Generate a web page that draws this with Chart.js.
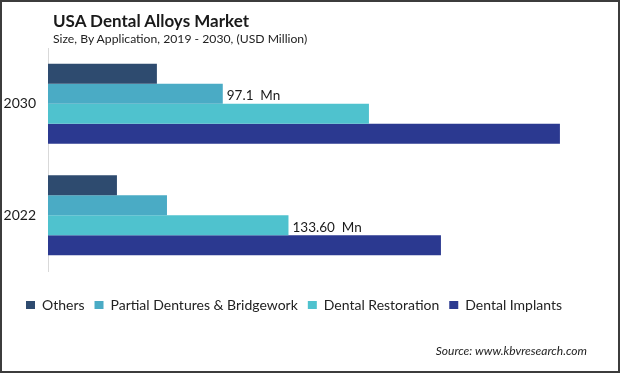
<!DOCTYPE html>
<html>
<head>
<meta charset="utf-8">
<script src="https://cdn.jsdelivr.net/npm/chart.js@4"></script>
<style>
  html, body { margin: 0; padding: 0; background: #fff; }
  #wrap { position: relative; width: 620px; height: 373px; overflow: hidden; }
  #myChart { position: absolute; left: 0; top: 0; }
  .txt { position: absolute; white-space: nowrap; font-family: Lato, sans-serif; color: #1a1a1a; line-height: 1; }
  #title { left: 53px; top: 12px; font-size: 17px; font-weight: bold; }
  #subtitle { left: 53px; top: 33px; font-size: 12.2px; color: #222; }
  #source { right: 33px; top: 345px; font-size: 12px; font-style: italic; color: #222; }
</style>
</head>
<body>
<div id="wrap">
  <canvas id="myChart" width="620" height="373"></canvas>
  <div class="txt" id="title">USA Dental Alloys Market</div>
  <div class="txt" id="subtitle">Size, By Application, 2019 - 2030, (USD Million)</div>
  <div class="txt" id="source">Source: www.kbvresearch.com</div>
</div>
<script>
// values (USD Million)
const years = ['2030', '2022'];
const seriesNames = ['Others', 'Partial Dentures & Bridgework', 'Dental Restoration', 'Dental Implants'];
const others = [60.5, 38.3];
const partialDentures = [97.1, 66.1];
const dentalRestoration = [178.3, 133.6];
const dentalImplants = [284.4, 218.3];
const seriesColors = ['#2e4b6f', '#4aabc5', '#4fc2ce', '#2b3990'];
// value callouts shown on the chart
const callouts = [
    { series: 1, year: 0, text: '97.1  Mn' },
    { series: 2, year: 1, text: '133.60  Mn' }
];

const seriesValues = [others, partialDentures, dentalRestoration, dentalImplants];

const calloutPlugin = {
    id: 'callouts',
    afterDatasetsDraw(chart) {
        const ctx = chart.ctx;
        ctx.save();
        ctx.font = '13.5px Lato, sans-serif';
        ctx.fillStyle = '#1a1a1a';
        ctx.textAlign = 'left';
        ctx.textBaseline = 'middle';
        callouts.forEach(c => {
            const bar = chart.getDatasetMeta(c.series).data[c.year];
            ctx.fillText(c.text, bar.x + 4, bar.y + 2);
        });
        ctx.restore();
    }
};

const framePlugin = {
    id: 'frame',
    afterDraw(chart) {
        const ctx = chart.ctx;
        ctx.save();
        ctx.strokeStyle = '#3c3c3c';
        ctx.lineWidth = 2;
        ctx.strokeRect(1, 1, chart.width - 2, chart.height - 2);
        ctx.restore();
    }
};

function initChart() {
    const ctx = document.getElementById('myChart').getContext('2d');
    new Chart(ctx, {
        type: 'bar',
        data: {
            labels: years,
            datasets: seriesNames.map((name, i) => ({
                label: name,
                data: seriesValues[i],
                backgroundColor: seriesColors[i],
                borderWidth: 0,
                barPercentage: 1,
                categoryPercentage: 0.717
            }))
        },
        options: {
            indexAxis: 'y',
            responsive: false,
            animation: false,
            layout: {
                padding: { left: 0, right: 32, top: 48, bottom: 51 }
            },
            plugins: {
                title: { display: false },
                tooltip: { enabled: false },
                legend: {
                    display: true,
                    position: 'bottom',
                    labels: {
                        boxWidth: 9,
                        boxHeight: 8,
                        padding: 10,
                        color: '#222',
                        font: { family: 'Lato, sans-serif', size: 14 }
                    }
                }
            },
            scales: {
                x: {
                    min: 0,
                    max: 300,
                    display: true,
                    grid: { display: false },
                    border: { display: false },
                    ticks: { display: false },
                    afterFit(scale) { scale.height = 17; }
                },
                y: {
                    grid: { display: false, drawTicks: false },
                    border: { display: true, color: '#d9d9d9', width: 1 },
                    ticks: {
                        padding: 12,
                        color: '#1a1a1a',
                        font: { family: 'Lato, sans-serif', size: 14 }
                    },
                    afterFit(scale) { scale.width = 48; }
                }
            }
        },
        plugins: [calloutPlugin, framePlugin]
    });
}

initChart();
</script>
</body>
</html>
